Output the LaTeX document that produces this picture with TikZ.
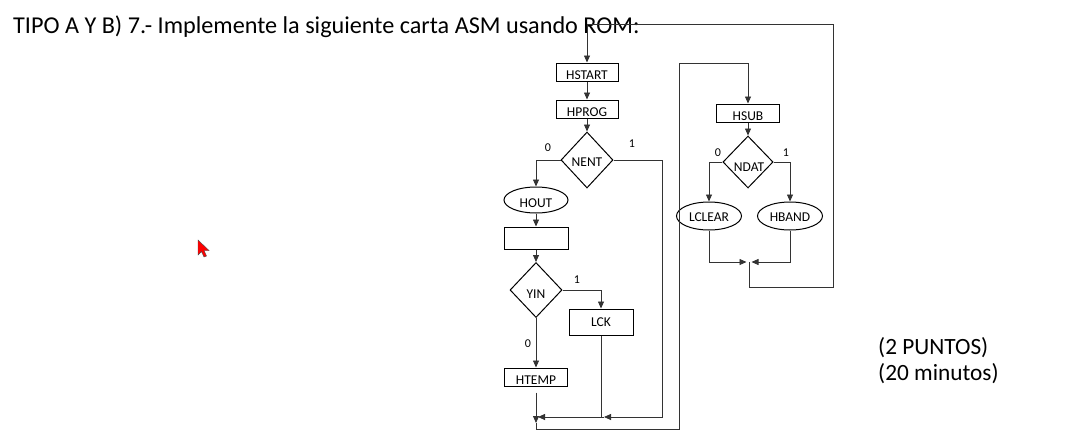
\documentclass[tikz,border=0pt]{standalone}
\usepackage{fontspec}
\setmainfont{Carlito}
\usetikzlibrary{shapes.geometric,arrows.meta}
\begin{document}
\begin{tikzpicture}[x=1pt,y=-1pt,
  shp/.style={draw=black,line width=1pt,inner sep=0pt,font=\fontsize{13.5}{15}\selectfont},
  lbox/.style={shp,rectangle,minimum width=63pt,text height=14.5pt,text depth=0pt,inner ysep=1.75pt},
  cbox/.style={shp,rectangle,minimum width=64pt,minimum height=26pt},
  dia/.style={shp,diamond,minimum width=52pt,minimum height=56pt,text depth=0pt},
  ell/.style={shp,ellipse,minimum width=65pt,minimum height=28pt,text depth=0pt},
  conn/.style={draw=black!80,line width=0.8pt},
  arr/.style={conn,-{Triangle[length=7pt,width=6pt]}},
  lab/.style={font=\fontsize{12}{14}\selectfont,inner sep=0pt},
  big/.style={font=\fontsize{24.2}{28}\selectfont,inner sep=0pt,anchor=base west}]
\fill[white] (0,0) rectangle (1076,447);
\useasboundingbox (0,0) rectangle (1076,447);

% texts
\node[big] (title) at (13,33) {TIPO A Y B) 7.- Implemente la siguiente carta ASM usando ROM:};
\node[big,font=\fontsize{23.3}{27}\selectfont] (pts) at (878,354) {(2 PUNTOS)};
\node[big,font=\fontsize{23.3}{27}\selectfont] (mins) at (878,380) {(20 minutos)};

% left column
\node[lbox,minimum width=62pt] (hstart) at (587,72) {HSTART};
\node[lbox,minimum width=62pt] (hprog) at (587,109) {HPROG};
\node[dia,text height=13pt] (nent) at (587,160) {NENT};
\node[ell,minimum width=64pt,minimum height=26pt,text height=15pt] (hout) at (536,200) {HOUT};
\node[cbox,minimum height=22pt] (blank) at (536,238) {};
\node[dia,minimum height=55pt,text height=16pt] (yin) at (536,290) {YIN};
\node[cbox] (lck) at (601,322) {LCK};
\node[lbox] (htemp) at (536,377) {HTEMP};

% right column
\node[lbox] (hsub) at (748,113) {HSUB};
\node[dia,minimum width=50pt,minimum height=52pt,text height=18pt] (ndat) at (748,162) {\hspace*{2pt}NDAT};
\node[ell,text height=11pt] (lclear) at (709,216) {LCLEAR};
\node[ell,text height=11pt] (hband) at (790,216) {HBAND};

% coordinates
\coordinate (jA) at (604,417);
\coordinate (jB) at (538,417);
\coordinate (jC) at (536,423);
\coordinate (jL) at (746.5,262);
\coordinate (jR) at (751.5,262);
\coordinate (jM) at (749,262);

% labels
\node[lab] (l0a) at (548,148) {0};
\node[lab] (l1a) at (632,144) {1};
\node[lab] (l1b) at (577,280) {1};
\node[lab] (l0b) at (528,344) {0};
\node[lab] (l0c) at (718,153) {0};
\node[lab] (l1c) at (786,153) {1};

% connectors left
\draw[arr] (hstart.south) -- (hprog.north);
\draw[arr] (hprog.south) -- (nent.north);
\draw[arr] (nent.west) -| (hout.north);
\draw[arr] (nent.east) -- (662,160) -- (662,417) -- (jA);
\draw[arr] (jA) -- (jB);
\draw[arr] (hout.south) -- (blank.north);
\draw[arr] (blank.south) -- (yin.north);
\draw[arr] (yin.east) -| (lck.north);
\draw[arr] (yin.south) -- (htemp.north);
\draw[conn] (lck.south) -- (lck.south |- jA);
\draw[arr] ([yshift=-6pt]htemp.south) -- (jC);
\draw[arr] (jC) -- (536,429) -- (679,429) -- (679,63) -- (hsub.north |- 0,63) -- (hsub.north);

% connectors right
\draw[arr] (hsub.south) -- (ndat.north);
\draw[arr] (ndat.west) -| (lclear.north);
\draw[arr] (ndat.east) -| (hband.north);
\draw[arr] (lclear.south) |- (jL);
\draw[arr] (hband.south) |- (jR);
\draw[arr] (jM) -- (749,287) -- (833,287) -- (833,24) -- (587,24) -- (hstart.north);

% cursor
\filldraw[fill=red,draw=black!70,line width=0.4pt] (198,240) -- (198,255) -- (201.5,251.5) -- (204,257) -- (206.5,256) -- (204,250.5) -- (209,250.5) -- cycle;
\end{tikzpicture}
\end{document}
